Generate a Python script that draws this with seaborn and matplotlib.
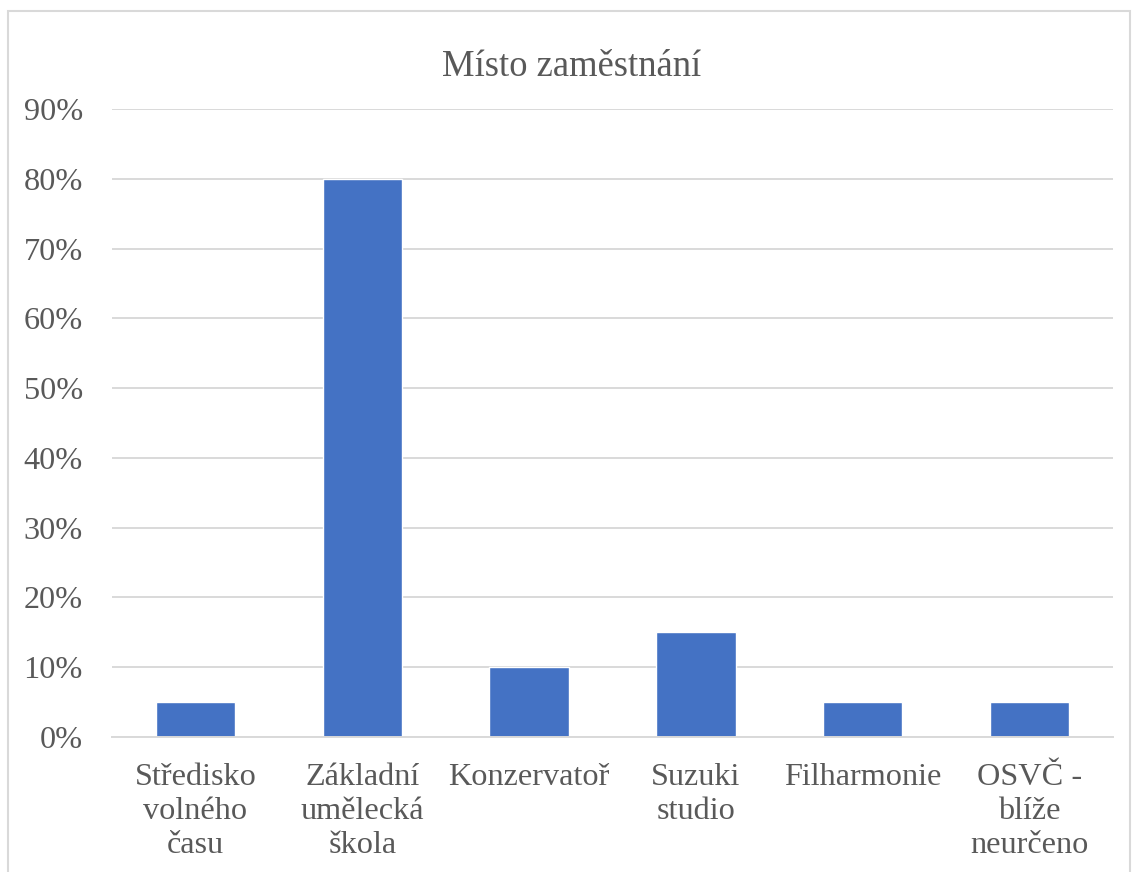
import pandas as pd
import matplotlib.pyplot as plt
import seaborn as sns
from matplotlib.patches import Rectangle
from matplotlib.ticker import PercentFormatter

# data
categories = ["Středisko\nvolného\nčasu", "Základní\numělecká\nškola", "Konzervatoř",
              "Suzuki\nstudio", "Filharmonie", "OSVČ -\nblíže\nneurčeno"]
shares = [0.05, 0.80, 0.10, 0.15, 0.05, 0.05]
title = "Místo zaměstnání"

df = pd.DataFrame({"misto": categories, "podil": shares})

sns.set_style("white")
plt.rcParams["font.family"] = ["Liberation Serif", "DejaVu Serif"]
text_col = "#595959"
grid_col = "#D9D9D9"

fig = plt.figure(figsize=(11.32, 8.72), dpi=100)
ax = fig.add_axes([112 / 1132, 1 - 737 / 872, (1113 - 112) / 1132, (737 - 109) / 872])

sns.barplot(data=df, x="misto", y="podil", color="#4472C4", width=0.475,
            saturation=1, ax=ax, zorder=3)

ax.set_ylim(0, 0.9)
ax.set_xlim(-0.5, len(categories) - 0.5)
ax.set_yticks([i / 10 for i in range(10)])
ax.yaxis.set_major_formatter(PercentFormatter(1.0, decimals=0))
ax.grid(axis="y", color=grid_col, linewidth=1.4, zorder=0)
ax.set_xlabel("")
ax.set_ylabel("")

for s in ["top", "right", "left"]:
    ax.spines[s].set_visible(False)
ax.spines["bottom"].set_color(grid_col)
ax.spines["bottom"].set_linewidth(1.4)
ax.spines["bottom"].set_zorder(4)

# tick marks between categories
ax.set_xticks([i + 0.5 for i in range(-1, len(categories))], minor=True)
ax.tick_params(axis="x", which="minor", length=6, width=1.4, color=grid_col, direction="out")
ax.tick_params(axis="x", which="major", length=0, pad=19, labelsize=23.2, labelcolor=text_col)
ax.tick_params(axis="y", length=0, pad=21, labelsize=23.2, labelcolor=text_col)
for lbl in ax.get_xticklabels():
    lbl.set_linespacing(1.22)

fig.text(0.505, 1 - 67 / 872, title, ha="center", va="center", fontsize=26.4, color=text_col)

# chart border
fig.patches.append(Rectangle((8 / 1132, -0.05), (1130 - 8) / 1132, 1.05 - 11 / 872,
                             transform=fig.transFigure, fill=False,
                             edgecolor=grid_col, linewidth=1.5))

fig.savefig("out.png", dpi=100)
